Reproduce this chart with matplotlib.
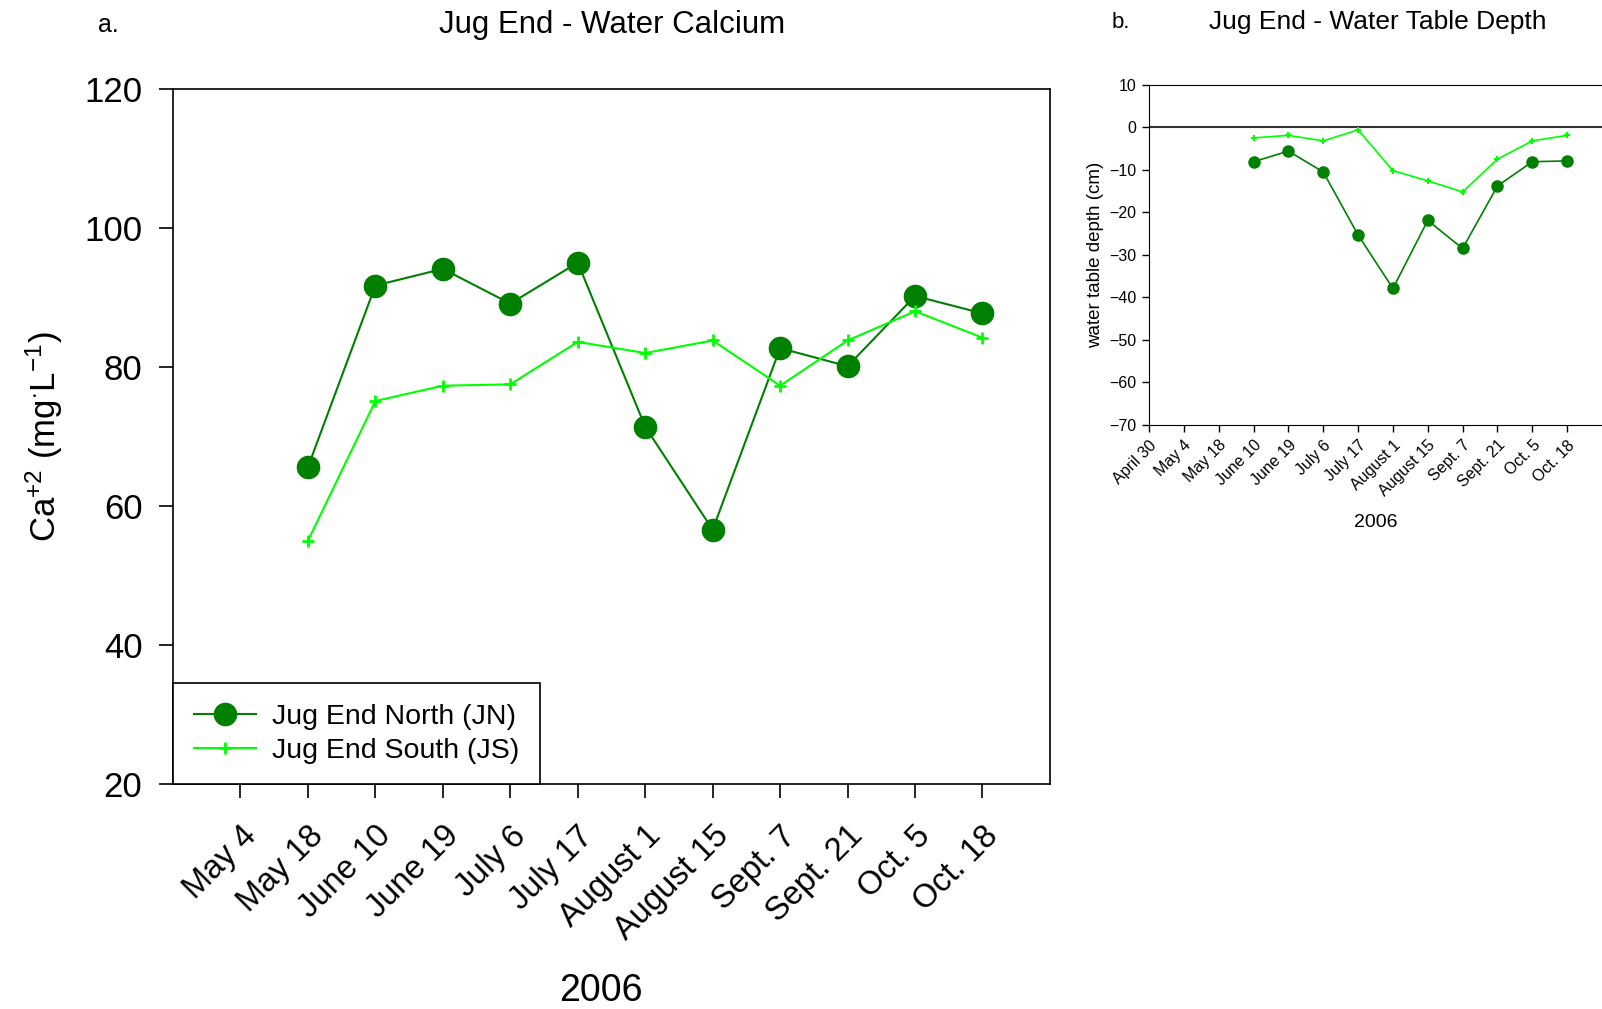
import matplotlib
matplotlib.use("Agg")
import matplotlib.pyplot as plt

plt.rcParams['font.family'] = ['Liberation Sans', 'DejaVu Sans']
plt.rcParams['mathtext.fontset'] = 'custom'
plt.rcParams['mathtext.rm'] = 'Liberation Sans'
plt.rcParams['mathtext.it'] = 'Liberation Sans'

# sampling dates, 2006
visit_dates = ['April 30', 'May 4', 'May 18', 'June 10', 'June 19', 'July 6', 'July 17',
               'August 1', 'August 15', 'Sept. 7', 'Sept. 21', 'Oct. 5', 'Oct. 18']

# calcium (mg/L), May 18 -> Oct. 18
ca_dates = visit_dates[2:]
ca_north = [65.6, 91.7, 94.1, 89.1, 95.0, 71.4, 56.6, 82.7, 80.1, 90.2, 87.7]
ca_south = [55.0, 75.1, 77.3, 77.5, 83.6, 82.0, 83.8, 77.3, 83.8, 88.0, 84.2]

# water table depth (cm), June 10 -> Oct. 18
wt_dates = visit_dates[3:]
wt_north = [-8.1, -5.6, -10.5, -25.3, -37.9, -21.9, -28.5, -13.8, -8.1, -7.9]
wt_south = [-2.5, -1.9, -3.2, -0.6, -10.2, -12.6, -15.2, -7.5, -3.2, -1.9]

dark = '#008000'
light = '#00ff00'

fig = plt.figure(figsize=(16.02, 10.09), dpi=100)

# ---- a. calcium
ax = fig.add_axes([0.108, 0.2227, 0.5474, 0.6894])
xa = [visit_dates.index(d) for d in ca_dates]
ax.plot(xa, ca_north, '-o', color=dark, lw=1.5, ms=16, label='Jug End North (JN)')
ax.plot(xa, ca_south, '-+', color=light, lw=1.5, ms=8, mew=2, label='Jug End South (JS)')
ax.set_xlim(0, 13)
ax.set_ylim(20, 120)
ax.set_yticks(range(20, 121, 20))
ax.set_xticks(range(1, 13))
ax.set_xticklabels(visit_dates[1:], rotation=45, ha='right', rotation_mode='anchor')
ax.tick_params(axis='both', direction='out', length=10, width=1.2, labelsize=25, pad=12)
ax.tick_params(axis='x', labelsize=23.5, pad=16)
for s in ax.spines.values():
    s.set_linewidth(1.2)
ax.set_ylabel('Ca$^{+2}$ (mg$^{\\cdot}$L$^{-1}$)', fontsize=25, labelpad=14)
# year label sits low, close to the bottom edge
fig.text(0.375, 0.018, '2006', fontsize=27, ha='center', va='center')
leg = ax.legend(loc='lower left', bbox_to_anchor=(0, 0), borderaxespad=0, fontsize=20.5,
                fancybox=False, edgecolor='black', framealpha=1, handlelength=2.2,
                handletextpad=0.55, labelspacing=0.28, borderpad=0.72)
leg.get_frame().set_linewidth(1.2)
fig.text(0.061, 0.975, 'a.', fontsize=18, va='center')
fig.text(0.382, 0.975, 'Jug End - Water Calcium', fontsize=22.5, ha='center', va='center')

# ---- b. water table depth
bx = fig.add_axes([0.7172, 0.5788, 0.2828, 0.3372])
xb = [visit_dates.index(d) for d in wt_dates]
bx.axhline(0, color='#333333', lw=1.5, zorder=1)
bx.plot(xb, wt_north, '-o', color=dark, lw=1.2, ms=8, label='JN')
bx.plot(xb, wt_south, '-+', color=light, lw=1.2, ms=5, mew=1.5, label='JS')
bx.set_xlim(0, 13)
bx.set_ylim(-70, 10)
bx.set_yticks(range(-70, 11, 10))
bx.set_xticks(range(0, 13))
bx.set_xticklabels(visit_dates, rotation=45, ha='right', rotation_mode='anchor')
bx.tick_params(axis='both', direction='out', length=5, width=1, labelsize=11.5, pad=4)
bx.spines['right'].set_visible(False)
bx.set_ylabel('water table depth (cm)', fontsize=13.5, labelpad=4)
bx.set_xlabel('2006', fontsize=14, labelpad=11)
fig.text(0.694, 0.978, 'b.', fontsize=16, va='center')
fig.text(0.86, 0.978, 'Jug End - Water Table Depth', fontsize=19, ha='center', va='center')

fig.savefig('out.png', dpi=100)
